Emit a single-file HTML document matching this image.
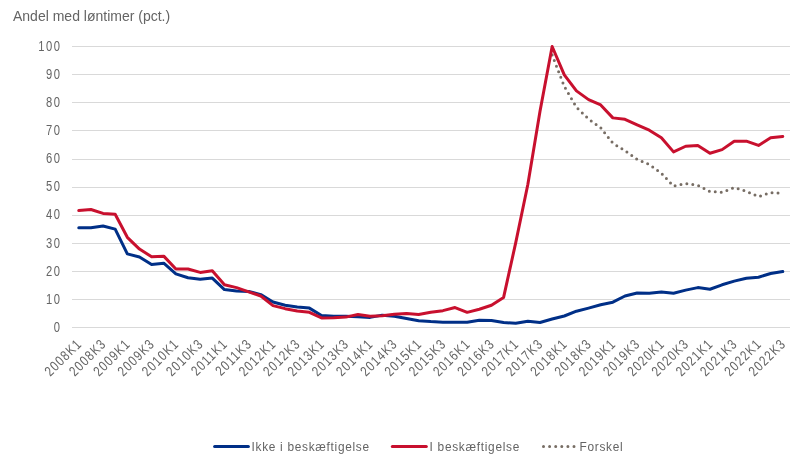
<!DOCTYPE html>
<html><head><meta charset="utf-8"><style>
html,body{margin:0;padding:0;background:#fff;}
body{width:805px;height:461px;overflow:hidden;}
svg{display:block;will-change:transform;font-family:"Liberation Sans",sans-serif;}
</style></head><body>
<svg width="805" height="461" viewBox="0 0 805 461">
<text x="13.0" y="20.7" font-size="14" fill="#646464">Andel med løntimer (pct.)</text>
<rect x="72" y="46" width="718" height="1" fill="#d9d9d9"/>
<rect x="72" y="74" width="718" height="1" fill="#d9d9d9"/>
<rect x="72" y="102" width="718" height="1" fill="#d9d9d9"/>
<rect x="72" y="130" width="718" height="1" fill="#d9d9d9"/>
<rect x="72" y="159" width="718" height="1" fill="#d9d9d9"/>
<rect x="72" y="187" width="718" height="1" fill="#d9d9d9"/>
<rect x="72" y="215" width="718" height="1" fill="#d9d9d9"/>
<rect x="72" y="243" width="718" height="1" fill="#d9d9d9"/>
<rect x="72" y="271" width="718" height="1" fill="#d9d9d9"/>
<rect x="72" y="299" width="718" height="1" fill="#d9d9d9"/>
<rect x="72" y="327" width="718" height="1" fill="#d9d9d9"/>
<text transform="translate(61.65,51) scale(0.8,1)" font-size="14" letter-spacing="1.97" fill="#646464" text-anchor="end">100</text>
<text transform="translate(61.65,79) scale(0.8,1)" font-size="14" letter-spacing="1.97" fill="#646464" text-anchor="end">90</text>
<text transform="translate(61.65,107) scale(0.8,1)" font-size="14" letter-spacing="1.97" fill="#646464" text-anchor="end">80</text>
<text transform="translate(61.65,135) scale(0.8,1)" font-size="14" letter-spacing="1.97" fill="#646464" text-anchor="end">70</text>
<text transform="translate(61.65,163) scale(0.8,1)" font-size="14" letter-spacing="1.97" fill="#646464" text-anchor="end">60</text>
<text transform="translate(61.65,191) scale(0.8,1)" font-size="14" letter-spacing="1.97" fill="#646464" text-anchor="end">50</text>
<text transform="translate(61.65,219) scale(0.8,1)" font-size="14" letter-spacing="1.97" fill="#646464" text-anchor="end">40</text>
<text transform="translate(61.65,248) scale(0.8,1)" font-size="14" letter-spacing="1.97" fill="#646464" text-anchor="end">30</text>
<text transform="translate(61.65,276) scale(0.8,1)" font-size="14" letter-spacing="1.97" fill="#646464" text-anchor="end">20</text>
<text transform="translate(61.65,304) scale(0.8,1)" font-size="14" letter-spacing="1.97" fill="#646464" text-anchor="end">10</text>
<text transform="translate(61.65,332) scale(0.8,1)" font-size="14" letter-spacing="1.97" fill="#646464" text-anchor="end">0</text>
<text transform="translate(78.77,342.1) rotate(-45) translate(1.04,0) scale(0.82,1)" x="0" y="4.6" font-size="14" letter-spacing="1.27" fill="#646464" text-anchor="end">2008K1</text>
<text transform="translate(103.05,342.1) rotate(-45) translate(1.04,0) scale(0.82,1)" x="0" y="4.6" font-size="14" letter-spacing="1.27" fill="#646464" text-anchor="end">2008K3</text>
<text transform="translate(127.32,342.1) rotate(-45) translate(1.04,0) scale(0.82,1)" x="0" y="4.6" font-size="14" letter-spacing="1.27" fill="#646464" text-anchor="end">2009K1</text>
<text transform="translate(151.60,342.1) rotate(-45) translate(1.04,0) scale(0.82,1)" x="0" y="4.6" font-size="14" letter-spacing="1.27" fill="#646464" text-anchor="end">2009K3</text>
<text transform="translate(175.87,342.1) rotate(-45) translate(1.04,0) scale(0.82,1)" x="0" y="4.6" font-size="14" letter-spacing="1.27" fill="#646464" text-anchor="end">2010K1</text>
<text transform="translate(200.15,342.1) rotate(-45) translate(1.04,0) scale(0.82,1)" x="0" y="4.6" font-size="14" letter-spacing="1.27" fill="#646464" text-anchor="end">2010K3</text>
<text transform="translate(224.43,342.1) rotate(-45) translate(1.04,0) scale(0.82,1)" x="0" y="4.6" font-size="14" letter-spacing="1.27" fill="#646464" text-anchor="end">2011K1</text>
<text transform="translate(248.70,342.1) rotate(-45) translate(1.04,0) scale(0.82,1)" x="0" y="4.6" font-size="14" letter-spacing="1.27" fill="#646464" text-anchor="end">2011K3</text>
<text transform="translate(272.98,342.1) rotate(-45) translate(1.04,0) scale(0.82,1)" x="0" y="4.6" font-size="14" letter-spacing="1.27" fill="#646464" text-anchor="end">2012K1</text>
<text transform="translate(297.25,342.1) rotate(-45) translate(1.04,0) scale(0.82,1)" x="0" y="4.6" font-size="14" letter-spacing="1.27" fill="#646464" text-anchor="end">2012K3</text>
<text transform="translate(321.53,342.1) rotate(-45) translate(1.04,0) scale(0.82,1)" x="0" y="4.6" font-size="14" letter-spacing="1.27" fill="#646464" text-anchor="end">2013K1</text>
<text transform="translate(345.81,342.1) rotate(-45) translate(1.04,0) scale(0.82,1)" x="0" y="4.6" font-size="14" letter-spacing="1.27" fill="#646464" text-anchor="end">2013K3</text>
<text transform="translate(370.08,342.1) rotate(-45) translate(1.04,0) scale(0.82,1)" x="0" y="4.6" font-size="14" letter-spacing="1.27" fill="#646464" text-anchor="end">2014K1</text>
<text transform="translate(394.36,342.1) rotate(-45) translate(1.04,0) scale(0.82,1)" x="0" y="4.6" font-size="14" letter-spacing="1.27" fill="#646464" text-anchor="end">2014K3</text>
<text transform="translate(418.63,342.1) rotate(-45) translate(1.04,0) scale(0.82,1)" x="0" y="4.6" font-size="14" letter-spacing="1.27" fill="#646464" text-anchor="end">2015K1</text>
<text transform="translate(442.91,342.1) rotate(-45) translate(1.04,0) scale(0.82,1)" x="0" y="4.6" font-size="14" letter-spacing="1.27" fill="#646464" text-anchor="end">2015K3</text>
<text transform="translate(467.19,342.1) rotate(-45) translate(1.04,0) scale(0.82,1)" x="0" y="4.6" font-size="14" letter-spacing="1.27" fill="#646464" text-anchor="end">2016K1</text>
<text transform="translate(491.46,342.1) rotate(-45) translate(1.04,0) scale(0.82,1)" x="0" y="4.6" font-size="14" letter-spacing="1.27" fill="#646464" text-anchor="end">2016K3</text>
<text transform="translate(515.74,342.1) rotate(-45) translate(1.04,0) scale(0.82,1)" x="0" y="4.6" font-size="14" letter-spacing="1.27" fill="#646464" text-anchor="end">2017K1</text>
<text transform="translate(540.01,342.1) rotate(-45) translate(1.04,0) scale(0.82,1)" x="0" y="4.6" font-size="14" letter-spacing="1.27" fill="#646464" text-anchor="end">2017K3</text>
<text transform="translate(564.29,342.1) rotate(-45) translate(1.04,0) scale(0.82,1)" x="0" y="4.6" font-size="14" letter-spacing="1.27" fill="#646464" text-anchor="end">2018K1</text>
<text transform="translate(588.57,342.1) rotate(-45) translate(1.04,0) scale(0.82,1)" x="0" y="4.6" font-size="14" letter-spacing="1.27" fill="#646464" text-anchor="end">2018K3</text>
<text transform="translate(612.84,342.1) rotate(-45) translate(1.04,0) scale(0.82,1)" x="0" y="4.6" font-size="14" letter-spacing="1.27" fill="#646464" text-anchor="end">2019K1</text>
<text transform="translate(637.12,342.1) rotate(-45) translate(1.04,0) scale(0.82,1)" x="0" y="4.6" font-size="14" letter-spacing="1.27" fill="#646464" text-anchor="end">2019K3</text>
<text transform="translate(661.39,342.1) rotate(-45) translate(1.04,0) scale(0.82,1)" x="0" y="4.6" font-size="14" letter-spacing="1.27" fill="#646464" text-anchor="end">2020K1</text>
<text transform="translate(685.67,342.1) rotate(-45) translate(1.04,0) scale(0.82,1)" x="0" y="4.6" font-size="14" letter-spacing="1.27" fill="#646464" text-anchor="end">2020K3</text>
<text transform="translate(709.95,342.1) rotate(-45) translate(1.04,0) scale(0.82,1)" x="0" y="4.6" font-size="14" letter-spacing="1.27" fill="#646464" text-anchor="end">2021K1</text>
<text transform="translate(734.22,342.1) rotate(-45) translate(1.04,0) scale(0.82,1)" x="0" y="4.6" font-size="14" letter-spacing="1.27" fill="#646464" text-anchor="end">2021K3</text>
<text transform="translate(758.50,342.1) rotate(-45) translate(1.04,0) scale(0.82,1)" x="0" y="4.6" font-size="14" letter-spacing="1.27" fill="#646464" text-anchor="end">2022K1</text>
<text transform="translate(782.77,342.1) rotate(-45) translate(1.04,0) scale(0.82,1)" x="0" y="4.6" font-size="14" letter-spacing="1.27" fill="#646464" text-anchor="end">2022K3</text>
<polyline points="552.15,54.93 564.29,86.40 576.43,107.20 588.57,119.00 600.70,127.71 612.84,143.16 624.98,150.75 637.12,159.46 649.26,164.52 661.39,173.23 673.53,186.16 685.67,183.63 697.81,185.31 709.95,191.50 722.08,192.34 734.22,187.56 746.36,191.27 758.50,196.61 770.64,192.68 782.77,193.24" fill="none" stroke="#776d64" stroke-width="3" stroke-linecap="round" stroke-dasharray="0 6.0" stroke-linejoin="round"/>
<polyline points="78.77,227.75 90.91,227.75 103.05,226.06 115.18,229.15 127.32,253.88 139.46,256.97 151.60,264.56 163.74,263.15 175.87,273.83 188.01,277.76 200.15,279.17 212.29,278.04 224.43,289.56 236.56,290.97 248.70,291.53 260.84,294.62 272.98,301.93 285.12,305.30 297.25,306.99 309.39,308.11 321.53,315.42 333.67,316.26 345.81,316.26 357.94,316.82 370.08,317.38 382.22,315.14 394.36,316.26 406.50,318.51 418.63,320.76 430.77,321.60 442.91,322.16 455.05,322.16 467.19,322.16 479.32,320.19 491.46,320.48 503.60,322.44 515.74,323.29 527.88,321.32 540.01,322.44 552.15,319.07 564.29,315.98 576.43,311.20 588.57,308.11 600.70,304.74 612.84,302.21 624.98,296.03 637.12,292.94 649.26,293.22 661.39,292.09 673.53,293.22 685.67,290.13 697.81,287.60 709.95,289.28 722.08,284.79 734.22,281.13 746.36,278.32 758.50,277.20 770.64,273.55 782.77,271.58" fill="none" stroke="#002f87" stroke-width="3" stroke-linecap="round" stroke-linejoin="round"/>
<polyline points="78.77,210.60 90.91,209.48 103.05,213.41 115.18,214.26 127.32,237.30 139.46,249.10 151.60,256.69 163.74,256.13 175.87,269.05 188.01,269.05 200.15,272.42 212.29,270.74 224.43,284.79 236.56,287.60 248.70,291.81 260.84,296.03 272.98,305.58 285.12,308.67 297.25,310.92 309.39,312.33 321.53,317.95 333.67,317.67 345.81,317.10 357.94,314.57 370.08,316.26 382.22,315.70 394.36,314.29 406.50,313.45 418.63,314.57 430.77,312.33 442.91,310.64 455.05,307.55 467.19,312.33 479.32,309.24 491.46,305.30 503.60,297.43 515.74,242.64 527.88,184.19 540.01,111.13 552.15,46.50 564.29,74.88 576.43,90.90 588.57,99.61 600.70,104.95 612.84,117.87 624.98,119.28 637.12,124.90 649.26,130.24 661.39,137.82 673.53,151.88 685.67,146.25 697.81,145.41 709.95,153.28 722.08,149.63 734.22,141.20 746.36,141.20 758.50,145.41 770.64,137.82 782.77,136.42" fill="none" stroke="#c8102e" stroke-width="3" stroke-linecap="round" stroke-linejoin="round"/>
<line x1="214.6" y1="446.4" x2="248.4" y2="446.4" stroke="#002f87" stroke-width="3" stroke-linecap="round"/>
<text transform="translate(251.5,450.9) scale(0.88,1)" font-size="13.5" letter-spacing="0.8" fill="#646464">Ikke i beskæftigelse</text>
<line x1="392.3" y1="446.4" x2="426.3" y2="446.4" stroke="#c8102e" stroke-width="3" stroke-linecap="round"/>
<text transform="translate(429.6,450.9) scale(0.88,1)" font-size="13.5" letter-spacing="0.8" fill="#646464">I beskæftigelse</text>
<line x1="543.5" y1="446.4" x2="574" y2="446.4" stroke="#776d64" stroke-width="3" stroke-linecap="round" stroke-dasharray="0 6.1"/>
<text transform="translate(579.5,450.9) scale(0.88,1)" font-size="13.5" letter-spacing="0.8" fill="#646464">Forskel</text>
</svg>
</body></html>
